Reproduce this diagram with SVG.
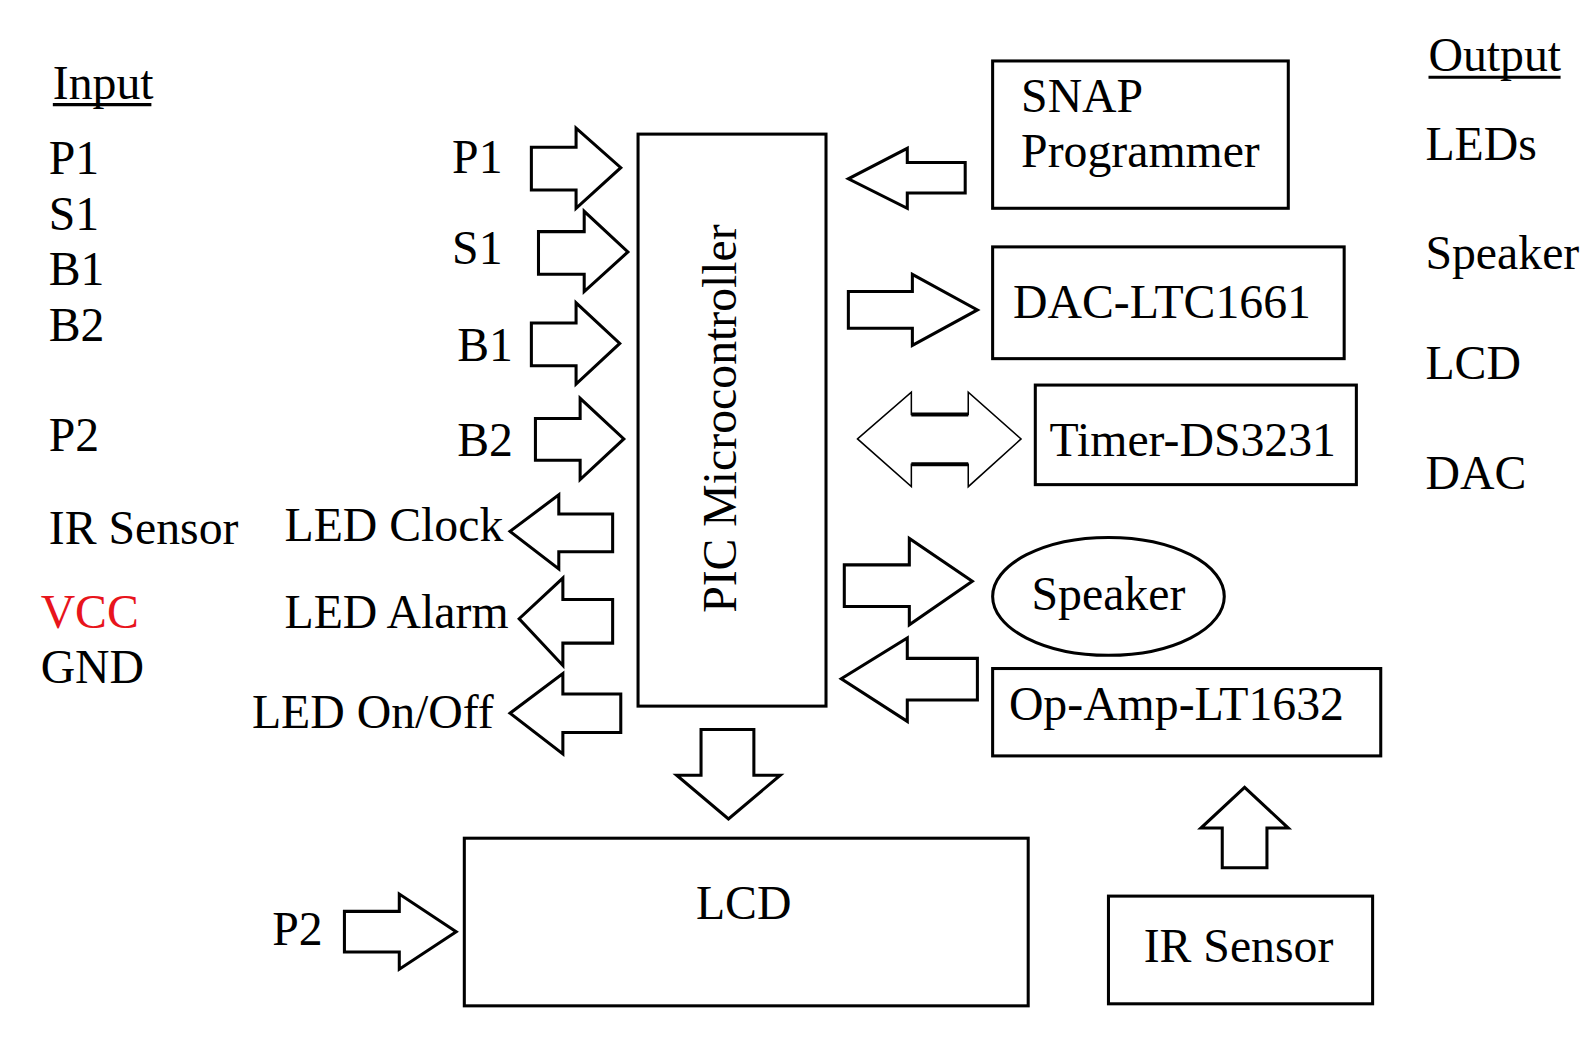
<svg xmlns="http://www.w3.org/2000/svg" width="1593" height="1041" viewBox="0 0 1593 1041">
<style>
text{font-family:"Liberation Serif","Times New Roman",serif;font-size:47px;fill:#000}
.box{fill:#fff;stroke:#000;stroke-width:3}
.arr{fill:#fff;stroke:#000;stroke-width:3;stroke-linejoin:miter}
.thin{fill:#fff;stroke:#000;stroke-width:1.5}
.ul{stroke:#000;stroke-width:3}
</style>
<rect width="1593" height="1041" fill="#fff"/>
<g transform="scale(1.016)">
<g id="legend-input">
<text x="52" y="97">Input</text>
<line class="ul" x1="52" y1="103" x2="149" y2="103"/>
<text x="48" y="171">P1</text>
<text x="48" y="226">S1</text>
<text x="48" y="281">B1</text>
<text x="48" y="336">B2</text>
<text x="48" y="444">P2</text>
<text x="48" y="535">IR Sensor</text>
<text x="40" y="618" style="fill:#e8141c">VCC</text>
<text x="40" y="672">GND</text>
</g>
<g id="legend-output">
<text x="1406" y="70">Output</text>
<line class="ul" x1="1406" y1="76" x2="1536" y2="76"/>
<text x="1403" y="157">LEDs</text>
<text x="1403" y="265">Speaker</text>
<text x="1403" y="373">LCD</text>
<text x="1403" y="481">DAC</text>
</g>
<g id="pic">
<rect class="box" x="628" y="132" width="185" height="563"/>
<text transform="translate(724,412) rotate(-90)" text-anchor="middle">PIC Microcontroller</text>
</g>
<g id="snap">
<rect class="box" x="977" y="60" width="291" height="145"/>
<text x="1005" y="110">SNAP</text>
<text x="1005" y="164">Programmer</text>
</g>
<g id="dac">
<rect class="box" x="977" y="243" width="346" height="110"/>
<text x="997" y="313">DAC-LTC1661</text>
</g>
<g id="timer">
<rect class="box" x="1019" y="379" width="316" height="98"/>
<text x="1033" y="449">Timer-DS3231</text>
</g>
<g id="speaker">
<ellipse class="box" cx="1091" cy="587" rx="114" ry="58"/>
<text x="1091" y="600" text-anchor="middle">Speaker</text>
</g>
<g id="opamp">
<rect class="box" x="977" y="658" width="382" height="86"/>
<text x="993" y="709">Op-Amp-LT1632</text>
</g>
<g id="lcd">
<rect class="box" x="457" y="825" width="555" height="165"/>
<text x="732" y="905" text-anchor="middle">LCD</text>
</g>
<g id="irsensor">
<rect class="box" x="1091" y="882" width="260" height="106"/>
<text x="1219" y="947" text-anchor="middle">IR Sensor</text>
</g>
<g id="connectors">
<text x="445" y="170">P1</text>
<polygon class="arr" points="523,145 567,145 567,126 611,165 567,205 567,187 523,187"/>
<text x="445" y="260">S1</text>
<polygon class="arr" points="530,228 575,228 575,208 618,248 575,287 575,270 530,270"/>
<text x="450" y="355">B1</text>
<polygon class="arr" points="523,318 567,318 567,298 610,338 567,378 567,360 523,360"/>
<text x="450" y="449">B2</text>
<polygon class="arr" points="527,412 571,412 571,392 614,432 571,472 571,453 527,453"/>
<text x="280" y="532">LED Clock</text>
<polygon class="arr" points="603,506 550,506 550,487 502,523 550,560 550,543 603,543"/>
<text x="280" y="618">LED Alarm</text>
<polygon class="arr" points="603,590 554,590 554,569 511,609 554,655 554,633 603,633"/>
<text x="248" y="717">LED On/Off</text>
<polygon class="arr" points="611,683 554,683 554,663 502,702 554,742 554,721 611,721"/>
<polygon class="arr" points="690,718 742,718 742,763 768,763 717,806 666,763 690,763"/>
<text x="268" y="930">P2</text>
<polygon class="arr" points="339,897 393,897 393,880 449,917 393,954 393,937 339,937"/>
<polygon class="arr" points="950,160 893,160 893,146 835,176 893,205 893,190 950,190"/>
<polygon class="arr" points="835,287 898,287 898,270 962,305 898,340 898,323 835,323"/>
<polygon class="thin" points="844,432 897,386 897,408 953,408 953,386 1005,432 953,479 953,457 897,457 897,479"/>
<line x1="897" y1="408" x2="953" y2="408" stroke="#000" stroke-width="4"/>
<line x1="897" y1="457" x2="953" y2="457" stroke="#000" stroke-width="4"/>
<polygon class="arr" points="831,556 895,556 895,530 957,572 895,615 895,597 831,597"/>
<polygon class="arr" points="962,648 893,648 893,628 828,668 893,710 893,689 962,689"/>
<polygon class="arr" points="1203,854 1203,815 1182,815 1225,775 1268,815 1247,815 1247,854"/>
</g>
</g>
</svg>
